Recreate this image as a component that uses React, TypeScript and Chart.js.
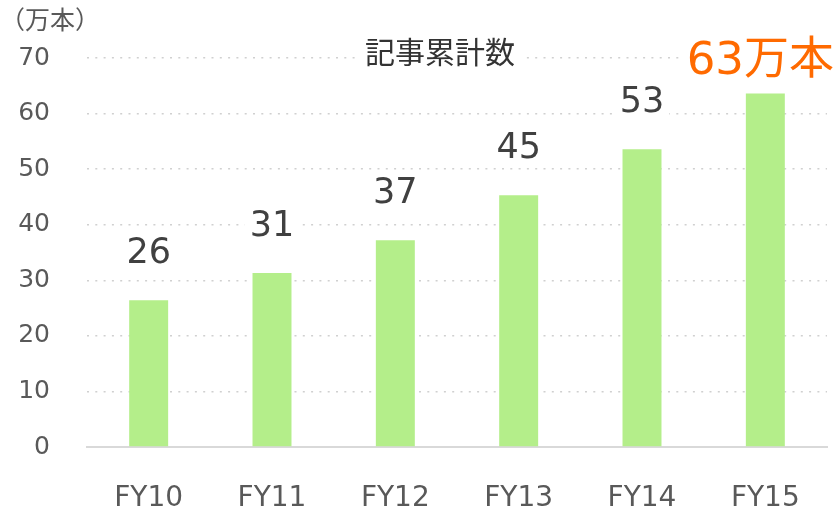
import { useEffect, useRef } from "react";
import { Chart, registerables } from "chart.js";

Chart.register(...registerables);

const categories = ["FY10", "FY11", "FY12", "FY13", "FY14", "FY15"];
const values = [26.4, 31.3, 37.2, 45.3, 53.6, 63.6];
const valueLabels = ["26", "31", "37", "45", "53", "63万本"];
const highlightIndex = 5;
const yMax = 70;
const yStep = 10;
const chartTitle = "記事累計数";
const unitLabel = "（万本）";

const FONT = "'DejaVu Sans', 'Noto Sans CJK JP', sans-serif";
const BAR_COLOR = "#b4ee8a";
const LABEL_COLOR = "#404040";
const HIGHLIGHT_COLOR = "#ff6a00";
const TICK_COLOR = "#595959";
const GRID_COLOR = "#d0d0d0";

const overlayPlugin = {
  id: "overlay",
  afterDatasetsDraw(chart: any) {
    const ctx: CanvasRenderingContext2D = chart.ctx;
    const meta = chart.getDatasetMeta(0);
    ctx.save();
    meta.data.forEach((bar: any, i: number) => {
      const text = valueLabels[i];
      const hi = i === highlightIndex;
      const size = hi ? 45 : 35;
      ctx.font = `${size}px ${FONT}`;
      const w = ctx.measureText(text).width;
      let cx = bar.x;
      if (cx + w / 2 > chart.width - 4) cx = chart.width - 4 - w / 2;
      const baseline = bar.y - (hi ? 20 : 37);
      ctx.fillStyle = "#ffffff";
      ctx.fillRect(cx - w / 2 - 5, baseline - size * 0.85, w + 10, size * 0.95);
      ctx.fillStyle = hi ? HIGHLIGHT_COLOR : LABEL_COLOR;
      ctx.textAlign = "center";
      ctx.textBaseline = "alphabetic";
      ctx.fillText(text, cx, baseline);
    });
    // title
    ctx.font = `30px ${FONT}`;
    const tw = ctx.measureText(chartTitle).width;
    const tx = 440;
    ctx.fillStyle = "#ffffff";
    ctx.fillRect(tx - tw / 2 - 6, 38, tw + 12, 34);
    ctx.fillStyle = "#333333";
    ctx.textAlign = "center";
    ctx.textBaseline = "middle";
    ctx.fillText(chartTitle, tx, 55);
    // unit
    ctx.font = `25px ${FONT}`;
    ctx.fillStyle = TICK_COLOR;
    ctx.textAlign = "left";
    ctx.textBaseline = "middle";
    ctx.fillText(unitLabel, 0, 22);
    ctx.restore();
  },
};

export default function App() {
  const ref = useRef<HTMLCanvasElement>(null);
  useEffect(() => {
    document.body.style.margin = "0";
    const chart = new Chart(ref.current!, {
      type: "bar",
      data: {
        labels: categories,
        datasets: [
          {
            data: values,
            backgroundColor: BAR_COLOR,
            categoryPercentage: 1,
            barPercentage: 0.316,
          },
        ],
      },
      plugins: [overlayPlugin],
      options: {
        animation: false,
        responsive: false,
        layout: { padding: { top: 58, right: 11, left: 0, bottom: 0 } },
        plugins: { legend: { display: false }, tooltip: { enabled: false }, title: { display: false } },
        scales: {
          x: {
            grid: { display: false, drawTicks: false },
            border: { display: true, color: "#d9d9d9", width: 2 },
            ticks: { color: TICK_COLOR, font: { size: 28, family: FONT }, padding: 35 },
            afterFit(scale: any) {
              scale.height = 65;
            },
          },
          y: {
            min: 0,
            max: yMax,
            grid: { color: GRID_COLOR, lineWidth: 1.5, drawTicks: false, tickLength: 0 },
            border: { display: false, dash: [2, 6.3] },
            ticks: { stepSize: yStep, color: TICK_COLOR, font: { size: 25, family: FONT }, padding: 37 },
            afterFit(scale: any) {
              scale.width = 87;
            },
          },
        },
      },
    });
    return () => chart.destroy();
  }, []);
  return <canvas ref={ref} width={838} height={512} style={{ display: "block" }} />;
}
